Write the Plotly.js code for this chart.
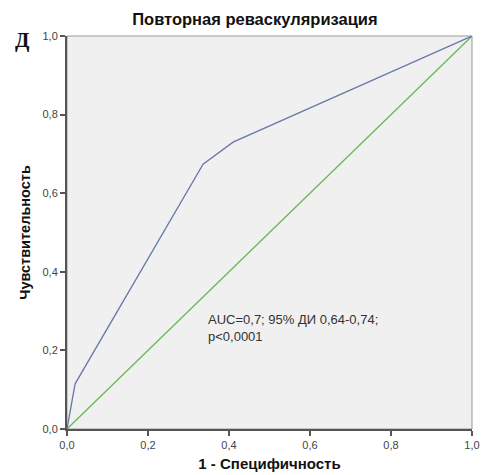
<!DOCTYPE html>
<html>
<head>
<meta charset="utf-8">
<script src="https://cdn.plot.ly/plotly-3.0.1.min.js"></script>
<style>
  html, body { margin: 0; padding: 0; background: #fff; }
  #chart { width: 481px; height: 475px; }
</style>
</head>
<body>
<div id="chart"></div>
<script>
// ROC curve: 1 - specificity vs sensitivity
const rocFpr = [0, 0.02, 0.336, 0.41, 1];
const rocTpr = [0, 0.115, 0.674, 0.73, 1];
// reference diagonal
const refX = [0, 1];
const refY = [0, 1];
const tickVals = [0, 0.2, 0.4, 0.6, 0.8, 1];

const axisBase = {
  range: [0, 1],
  tickvals: tickVals,
  tickformat: '.1f',
  ticks: 'outside',
  ticklen: 5,
  tickwidth: 2,
  tickcolor: '#555',
  showline: true,
  linewidth: 2,
  linecolor: '#555',
  showgrid: false,
  zeroline: false,
  fixedrange: true,
  tickfont: { family: 'Liberation Sans, Arial, sans-serif', size: 11, color: '#444' }
};

const data = [
  {
    x: refX, y: refY, type: 'scatter', mode: 'lines',
    line: { color: '#66bb55', width: 1.3 }, hoverinfo: 'skip'
  },
  {
    x: rocFpr, y: rocTpr, type: 'scatter', mode: 'lines',
    line: { color: '#6878a8', width: 1.3 }, hoverinfo: 'skip'
  }
];

const layout = {
  width: 481, height: 475,
  margin: { l: 67, r: 9, t: 36, b: 46 },
  paper_bgcolor: '#ffffff',
  plot_bgcolor: '#f0f0f0',
  separators: ', ',
  showlegend: false,
  font: { family: 'Liberation Sans, Arial, sans-serif', color: '#222' },
  title: {
    text: '<b>Повторная реваскуляризация</b>',
    font: { family: 'Liberation Sans, Arial, sans-serif', size: 16.5, color: '#111' },
    x: 0.464, xref: 'paper', xanchor: 'center',
    y: 0.96, yref: 'container', yanchor: 'middle'
  },
  xaxis: Object.assign({}, axisBase, {
    title: { text: '<b>1 - Специфичность</b>', font: { size: 15, color: '#111' }, standoff: 8 }
  }),
  yaxis: Object.assign({}, axisBase, {
    title: { text: '<b>Чувствительность</b>', font: { size: 14.5, color: '#111' }, standoff: 8 }
  }),
  shapes: [
    {
      type: 'rect', xref: 'paper', yref: 'paper', x0: 0, y0: 0, x1: 1, y1: 1,
      line: { color: '#999', width: 1 }, layer: 'below'
    }
  ],
  annotations: [
    {
      text: 'AUC=0,7; 95% ДИ 0,64-0,74;<br>p&lt;0,0001',
      xref: 'x', yref: 'y', x: 0.343, y: 0.303,
      xanchor: 'left', yanchor: 'top', align: 'left', showarrow: false,
      font: { family: 'Liberation Sans, Arial, sans-serif', size: 13, color: '#333' }
    },
    {
      text: '<b>Д</b>',
      xref: 'paper', yref: 'paper', x: -0.111, y: 0.99,
      xanchor: 'center', yanchor: 'middle', showarrow: false,
      font: { family: 'Liberation Serif, Times New Roman, serif', size: 21, color: '#111' }
    }
  ]
};

Plotly.newPlot('chart', data, layout, { displayModeBar: false, staticPlot: true });
</script>
</body>
</html>
